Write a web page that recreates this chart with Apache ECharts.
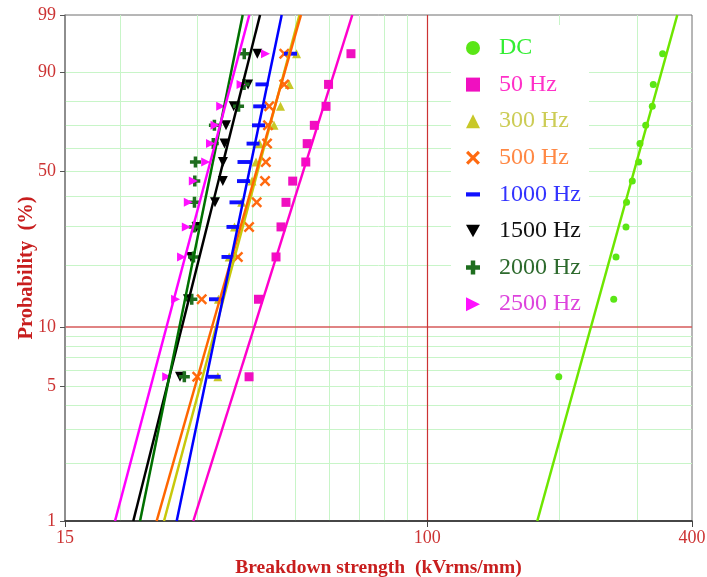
<!DOCTYPE html>
<html>
<head>
<meta charset="utf-8">
<script src="https://cdn.jsdelivr.net/npm/echarts@6/dist/echarts.min.js"></script>
<style>
  html, body { margin: 0; padding: 0; background: #ffffff; }
  #chart { width: 707px; height: 577px; }
</style>
</head>
<body>
<div id="chart"></div>
<script>
// Cumulative failure probability (%) of the ranked specimens, 12 per set
const probabilities = [5.6, 13.7, 21.8, 29.8, 37.9, 46.0, 54.0, 62.1, 70.2, 78.2, 86.3, 94.4];

// Breakdown strength (kVrms/mm) of each set, ranked from weakest to strongest
const dcValues     = [199.1, 265.5, 268.7, 283.1, 283.9, 292.6, 302.6, 304.6, 313.9, 324.9, 326.6, 343.0];
const hz50Values   = [39.33, 41.32, 45.29, 46.49, 47.72, 49.43, 52.93, 53.32, 55.35, 58.85, 59.63, 67.06];
const hz300Values  = [33.40, 33.50, 35.44, 36.44, 37.84, 39.95, 40.78, 41.53, 44.81, 46.37, 48.56, 50.43];
const hz500Values  = [29.98, 30.69, 37.08, 39.33, 40.93, 42.76, 42.94, 43.21, 43.43, 43.70, 47.27, 47.30];
const hz1000Values = [32.76, 32.99, 35.22, 36.15, 36.73, 38.20, 38.30, 40.16, 41.32, 41.58, 42.08, 48.86];
const hz1500Values = [27.39, 28.56, 29.01, 29.87, 32.90, 34.28, 34.30, 34.58, 34.85, 36.29, 39.12, 41.06];
const hz2000Values = [28.02, 29.13, 29.40, 29.50, 29.55, 29.60, 29.70, 32.61, 32.80, 37.22, 38.31, 38.35];
const hz2500Values = [25.55, 26.76, 27.62, 28.31, 28.61, 29.37, 31.34, 32.14, 32.90, 33.90, 37.71, 42.87];

// Weibull fit lines: strength at 1 % and at 99 % failure probability
const fitProbabilities = [1, 99];
const dcFit     = [177.9, 370.3];
const hz50Fit   = [29.37, 67.53];
const hz300Fit  = [25.19, 51.21];
const hz500Fit  = [24.24, 51.61];
const hz1000Fit = [26.92, 46.66];
const hz1500Fit = [21.45, 41.65];
const hz2000Fit = [22.22, 38.04];
const hz2500Fit = [19.49, 39.38];

// Axis ticks and grid
const yTickLabels = [1, 5, 10, 50, 90, 99];
const yGridLines  = [2, 3, 4, 5, 6, 7, 8, 9, 20, 30, 40, 50, 60, 70, 80, 90];
const yRedLine    = 10;
const xTickLabels = [15, 100, 400];
const xGridLines  = [20, 30, 40, 50, 60, 70, 80, 90, 200, 300];
const xRedLine    = 100;

const SERIF = '"Liberation Serif", "Times New Roman", serif';

// Weibull probability scale: ln(-ln(1 - F))
const weibullY = p => Math.log(-Math.log(1 - p / 100));

const sets = [
  { name: 'DC',      values: dcValues,     fit: dcFit },
  { name: '50 Hz',   values: hz50Values,   fit: hz50Fit },
  { name: '300 Hz',  values: hz300Values,  fit: hz300Fit },
  { name: '500 Hz',  values: hz500Values,  fit: hz500Fit },
  { name: '1000 Hz', values: hz1000Values, fit: hz1000Fit },
  { name: '1500 Hz', values: hz1500Values, fit: hz1500Fit },
  { name: '2000 Hz', values: hz2000Values, fit: hz2000Fit },
  { name: '2500 Hz', values: hz2500Values, fit: hz2500Fit }
];

const P_CROSS = 'path://M0,1.6L1.6,0L5,3.4L8.4,0L10,1.6L6.6,5L10,8.4L8.4,10L5,6.6L1.6,10L0,8.4L3.4,5Z';
const P_DASH  = 'path://M0,0M0,3.5L10,3.5L10,6.5L0,6.5ZM10,10';
const P_DOWN  = 'path://M0,0L10,0L5,9Z';
const P_PLUS  = 'path://M3.4,0H6.6V3.4H10V6.6H6.6V10H3.4V6.6H0V3.4H3.4Z';
const P_RIGHT = 'path://M0,0L10,5L0,10Z';

const styles = {
  'DC':      { point: '#5ae616', line: '#6ee600', text: '#33ee33', symbol: 'circle', size: 7 },
  '50 Hz':   { point: '#f010c0', line: '#ff00cc', text: '#ff30c8', symbol: 'rect',   size: 9 },
  '300 Hz':  { point: '#c8c828', line: '#c8c80a', text: '#cccc55', symbol: 'triangle', size: 9 },
  '500 Hz':  { point: '#ff6a10', line: '#ff6600', text: '#ff8844', symbol: P_CROSS, size: 11 },
  '1000 Hz': { point: '#1010ff', line: '#0000ff', text: '#3333ff', symbol: P_DASH,  size: 13 },
  '1500 Hz': { point: '#000000', line: '#000000', text: '#111111', symbol: P_DOWN,  size: 10 },
  '2000 Hz': { point: '#1e6e1e', line: '#007000', text: '#2d6a2d', symbol: P_PLUS,  size: 11 },
  '2500 Hz': { point: '#ff10ff', line: '#ff00ff', text: '#dd44dd', symbol: P_RIGHT, size: 9 }
};

// Grid lines on the probability / log-strength scales
const gridMarks = [];
yGridLines.forEach(p => gridMarks.push({ yAxis: weibullY(p), lineStyle: { color: '#c8f5c8', width: 1, type: 'solid' } }));
xGridLines.forEach(v => gridMarks.push({ xAxis: v, lineStyle: { color: '#c8f5c8', width: 1, type: 'solid' } }));
gridMarks.push({ yAxis: weibullY(yRedLine), lineStyle: { color: '#d65a5a', width: 1.5, type: 'solid' } });
gridMarks.push({ xAxis: xRedLine, lineStyle: { color: '#cc3333', width: 1.2, type: 'solid' } });

const series = [{
  type: 'scatter',
  name: 'grid',
  data: [],
  silent: true,
  z: 0,
  markLine: {
    z: 0,
    silent: true,
    symbol: ['none', 'none'],
    label: { show: false },
    emphasis: { disabled: true },
    animation: false,
    data: gridMarks
  }
}];

sets.forEach(s => {
  const st = styles[s.name];
  series.push({
    type: 'scatter',
    name: s.name,
    data: s.values.map((v, i) => [v, weibullY(probabilities[i])]),
    symbol: st.symbol,
    symbolSize: st.size,
    itemStyle: { color: st.point, opacity: 1 },
    emphasis: { disabled: true },
    silent: true
  });
});

sets.forEach(s => {
  const st = styles[s.name];
  series.push({
    type: 'line',
    name: s.name + ' fit',
    data: s.fit.map((v, i) => [v, weibullY(fitProbabilities[i])]),
    showSymbol: false,
    symbol: 'none',
    lineStyle: { color: st.line, width: 2.5 },
    itemStyle: { color: st.line },
    emphasis: { disabled: true },
    silent: true
  });
});

const chart = echarts.init(document.getElementById('chart'), null, { renderer: 'canvas' });

chart.setOption({
  animation: false,
  backgroundColor: '#ffffff',
  textStyle: { fontFamily: SERIF },
  grid: {
    left: 65, right: 15, top: 15, bottom: 56,
    containLabel: false,
    outerBoundsMode: 'none',
    show: true, borderColor: '#6e6e6e', borderWidth: 1, backgroundColor: 'transparent'
  },
  legend: {
    z: 20,
    orient: 'vertical',
    left: 451,
    top: 25,
    backgroundColor: '#ffffff',
    padding: [11, 8, 5, 15],
    itemWidth: 14,
    itemHeight: 14,
    itemGap: 12.6,
    selectedMode: false,
    formatter: name => '{g|}' + name,
    textStyle: {
      fontFamily: SERIF, fontSize: 24, lineHeight: 22,
      rich: { g: { width: 14, lineHeight: 22 } }
    },
    data: sets.map(s => ({ name: s.name, textStyle: { color: styles[s.name].text } }))
  },
  xAxis: {
    type: 'log',
    logBase: 10,
    min: 15,
    max: 400,
    name: 'Breakdown strength  (kVrms/mm)',
    nameLocation: 'middle',
    nameGap: 37,
    nameMoveOverlap: false,
    nameTextStyle: { color: '#c81e1e', fontSize: 19.5, fontWeight: 'bold', fontFamily: SERIF },
    axisLine: { onZero: false, lineStyle: { color: '#222222', width: 1.5 } },
    axisTick: { customValues: xTickLabels, length: 6, lineStyle: { color: '#444444' } },
    axisLabel: {
      customValues: xTickLabels,
      color: '#cc3333', fontSize: 18, fontFamily: SERIF, margin: 8,
      formatter: v => String(Math.round(v))
    },
    splitLine: { show: false },
    minorTick: { show: false },
    minorSplitLine: { show: false }
  },
  yAxis: {
    type: 'value',
    min: weibullY(1),
    max: weibullY(99),
    name: 'Probability  (%)',
    nameLocation: 'middle',
    nameGap: 28,
    nameMoveOverlap: false,
    nameRotate: 90,
    nameTextStyle: { color: '#c81e1e', fontSize: 20.5, fontWeight: 'bold', fontFamily: SERIF },
    axisLine: { onZero: false, lineStyle: { color: '#808080', width: 1.5 } },
    axisTick: { customValues: yTickLabels.map(weibullY), length: 5, lineStyle: { color: '#555555' } },
    axisLabel: {
      customValues: yTickLabels.map(weibullY),
      color: '#cc3333', fontSize: 18, fontFamily: SERIF, margin: 9,
      formatter: v => {
        const p = yTickLabels.find(t => Math.abs(weibullY(t) - v) < 1e-6);
        return p === undefined ? '' : String(p);
      }
    },
    splitLine: { show: false }
  },
  series: series
});
</script>
</body>
</html>
